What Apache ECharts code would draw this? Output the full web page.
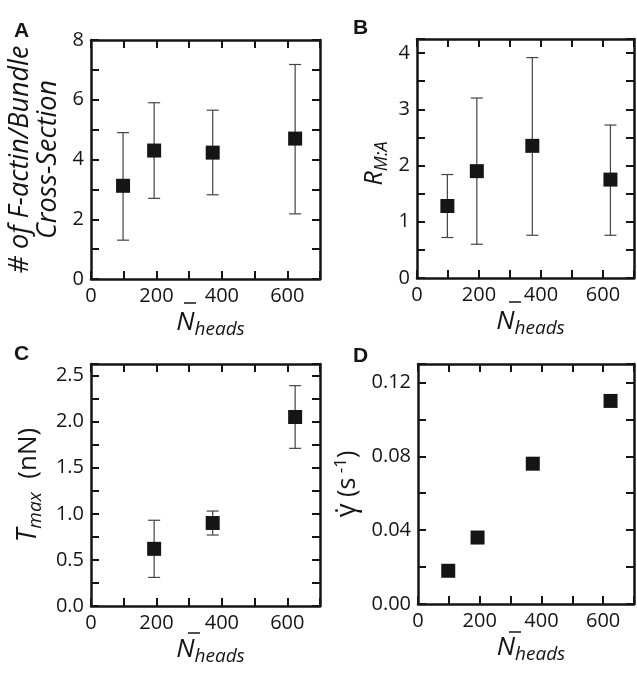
<!DOCTYPE html>
<html>
<head>
<meta charset="utf-8">
<script src="https://cdn.jsdelivr.net/npm/echarts@6/dist/echarts.min.js"></script>
<style>
html,body{margin:0;padding:0;background:#fff;}
#chart{width:637px;height:674px;}
</style>
</head>
<body>
<div id="chart"></div>
<script>
// ---- Data ----
const xTicks = [0, 200, 400, 600];
// Panel A: # of F-actin / bundle cross-section
const nHeadsA = [98, 193, 372, 624];
const bundleA = [3.12, 4.30, 4.23, 4.70];
const bundleLoA = [1.30, 2.70, 2.82, 2.18];
const bundleHiA = [4.90, 5.90, 5.65, 7.18];
// Panel B: R_M:A
const nHeadsB = [98, 193, 372, 624];
const rmaB = [1.28, 1.90, 2.35, 1.75];
const rmaLoB = [0.72, 0.60, 0.76, 0.76];
const rmaHiB = [1.84, 3.20, 3.92, 2.72];
// Panel C: T_max (nN)
const nHeadsC = [193, 372, 624];
const tmaxC = [0.62, 0.90, 2.05];
const tmaxLoC = [0.31, 0.77, 1.71];
const tmaxHiC = [0.93, 1.03, 2.39];
// Panel D: shear rate (s^-1)
const nHeadsD = [98, 193, 372, 624];
const gammaD = [0.018, 0.036, 0.076, 0.110];

const FONT = '"Open Sans", "Noto Sans", sans-serif';
const INK = '#151515';

const chart = echarts.init(document.getElementById('chart'), null, {renderer: 'canvas'});

const grids = [
  {left: 91, top: 40, width: 229, height: 239},
  {left: 417, top: 39, width: 229, height: 239},
  {left: 91, top: 364, width: 229, height: 242},
  {left: 418, top: 364, width: 229, height: 240}
];

const xNameRich = {
  n: {fontFamily: FONT, fontStyle: 'italic', fontSize: 26, color: INK},
  s: {fontFamily: FONT, fontStyle: 'italic', fontSize: 19, color: INK, padding: [14, 0, 0, 0]}
};

function xAxes(i) {
  const common = {
    gridIndex: i, type: 'value', min: 0, max: 700, interval: 100,
    axisLine: {show: true, onZero: false, lineStyle: {color: INK, width: 2.5}},
    axisTick: {show: true, inside: true, length: 8, lineStyle: {color: INK, width: 2}},
    splitLine: {show: false}
  };
  return [
    Object.assign({}, common, {
      position: 'bottom',
      axisLabel: {
        fontFamily: FONT, fontSize: 20, color: INK, margin: 7,
        formatter: v => (xTicks.indexOf(v) >= 0 ? String(v) : '')
      },
      name: '{n|N}{s|heads}', nameLocation: 'middle', nameGap: 27,
      nameTextStyle: {rich: xNameRich, padding: [0, 0, 0, 10]}
    }),
    Object.assign({}, common, {position: 'top', axisLabel: {show: false}})
  ];
}

function yAxes(i, max, interval, labelFn, name, nameGap, nameStyle) {
  const common = {
    gridIndex: i, type: 'value', min: 0, max: max, interval: interval,
    axisLine: {show: true, onZero: false, lineStyle: {color: INK, width: 2.5}},
    axisTick: {show: true, inside: true, length: 8, lineStyle: {color: INK, width: 2}},
    splitLine: {show: false}
  };
  return [
    Object.assign({}, common, {
      position: 'left',
      axisLabel: {fontFamily: FONT, fontSize: 20, color: INK, margin: 7, formatter: labelFn, showMaxLabel: true},
      name: name, nameLocation: 'middle', nameGap: nameGap, nameRotate: 90,
      nameTextStyle: nameStyle
    }),
    Object.assign({}, common, {position: 'right', axisLabel: {show: false}})
  ];
}

function errRender(params, api) {
  const x = api.value(0), lo = api.value(1), hi = api.value(2);
  const p1 = api.coord([x, lo]);
  const p2 = api.coord([x, hi]);
  const w = 6;
  const st = {stroke: '#444', lineWidth: 1.2};
  return {
    type: 'group',
    children: [
      {type: 'line', shape: {x1: p1[0], y1: p1[1], x2: p2[0], y2: p2[1]}, style: st},
      {type: 'line', shape: {x1: p1[0] - w, y1: p1[1], x2: p1[0] + w, y2: p1[1]}, style: st},
      {type: 'line', shape: {x1: p2[0] - w, y1: p2[1], x2: p2[0] + w, y2: p2[1]}, style: st}
    ]
  };
}

function zip2(a, b) { return a.map((v, k) => [v, b[k]]); }
function zip3(a, b, c) { return a.map((v, k) => [v, b[k], c[k]]); }

const xAxisAll = [].concat(xAxes(0), xAxes(1), xAxes(2), xAxes(3));

const yAxisAll = [].concat(
  yAxes(0, 8, 1, v => (v % 2 === 0 ? String(v) : ''),
    '# of F-actin/Bundle\nCross-Section', 29,
    {fontFamily: FONT, fontStyle: 'italic', fontSize: 27, color: INK, lineHeight: 28}),
  yAxes(1, 4.25, 0.5, v => (Number.isInteger(v) ? String(v) : ''),
    '{sp| }{r|R}{s|M:A}{sp| }{sp| }', 26,
    {rich: {
      r: {fontFamily: FONT, fontStyle: 'italic', fontSize: 25, color: INK},
      s: {fontFamily: FONT, fontStyle: 'italic', fontSize: 18, color: INK, padding: [14, 0, 0, 0]},
      sp: {width: 10, fontSize: 10, color: 'rgba(0,0,0,0)'}
    }}),
  yAxes(2, 2.625, 0.25, v => (Math.round(v * 100) % 50 === 0 ? v.toFixed(1) : ''),
    '{t|T}{s|max}{u|  (nN)}', 46,
    {rich: {
      t: {fontFamily: FONT, fontStyle: 'italic', fontSize: 27, color: INK},
      s: {fontFamily: FONT, fontStyle: 'italic', fontSize: 19, color: INK, padding: [14, 0, 0, 0]},
      u: {fontFamily: FONT, fontSize: 26, color: INK}
    }}),
  yAxes(3, 0.13, 0.02, v => (Math.round(v * 100) % 4 === 0 ? v.toFixed(2) : ''),
    '{g|\u03B3\u0307}{t| (s}{p| -1}{t|)}', 56,
    {rich: {
      g: {fontFamily: FONT, fontSize: 27, color: INK},
      t: {fontFamily: FONT, fontSize: 25, color: INK},
      p: {fontFamily: FONT, fontSize: 17, color: INK, padding: [0, 0, 12, 0]}
    }})
);

const series = [];
function addPanel(i, xs, ys, lo, hi) {
  if (lo) {
    series.push({
      type: 'custom', xAxisIndex: i * 2, yAxisIndex: i * 2,
      renderItem: errRender, data: zip3(xs, lo, hi), z: 2, silent: true
    });
  }
  series.push({
    type: 'scatter', xAxisIndex: i * 2, yAxisIndex: i * 2,
    symbol: 'rect', symbolSize: 14, itemStyle: {color: INK, opacity: 1},
    data: zip2(xs, ys), z: 5, silent: true
  });
}
addPanel(0, nHeadsA, bundleA, bundleLoA, bundleHiA);
addPanel(1, nHeadsB, rmaB, rmaLoB, rmaHiB);
addPanel(2, nHeadsC, tmaxC, tmaxLoC, tmaxHiC);
addPanel(3, nHeadsD, gammaD, null, null);

const letterStyle = {fontFamily: '"Liberation Sans", Arial, sans-serif', fontWeight: 'bold', fontSize: 21, fill: INK};
const barStyle = {stroke: INK, lineWidth: 1.5};

const option = {
  animation: false,
  backgroundColor: '#fff',
  grid: grids,
  xAxis: xAxisAll,
  yAxis: yAxisAll,
  series: series,
  graphic: [
    {type: 'text', left: 14, top: 21, style: Object.assign({text: 'A'}, letterStyle)},
    {type: 'text', left: 353, top: 18, style: Object.assign({text: 'B'}, letterStyle)},
    {type: 'text', left: 14, top: 344, style: Object.assign({text: 'C'}, letterStyle)},
    {type: 'text', left: 353, top: 346, style: Object.assign({text: 'D'}, letterStyle)},
    {type: 'line', shape: {x1: 184, y1: 303, x2: 196, y2: 303}, style: barStyle},
    {type: 'line', shape: {x1: 509, y1: 302, x2: 521, y2: 302}, style: barStyle},
    {type: 'line', shape: {x1: 188, y1: 633, x2: 200, y2: 633}, style: barStyle},
    {type: 'line', shape: {x1: 509, y1: 632, x2: 521, y2: 632}, style: barStyle}
  ]
};
chart.setOption(option);
</script>
</body>
</html>
